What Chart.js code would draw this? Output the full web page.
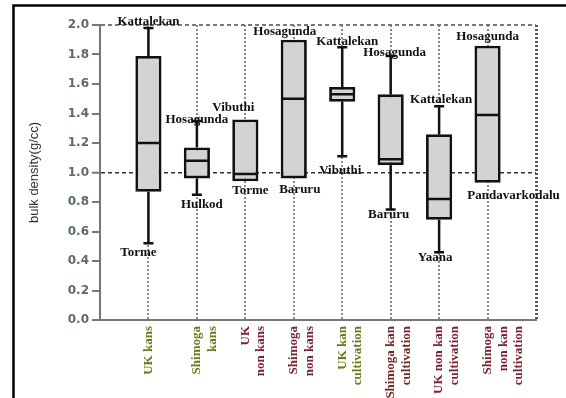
<!DOCTYPE html>
<html>
<head>
<meta charset="utf-8">
<script src="https://cdn.jsdelivr.net/npm/chart.js@4.4.0/dist/chart.umd.min.js"></script>
<style>
  html, body { margin: 0; padding: 0; background: #fff; }
  canvas { display: block; }
</style>
</head>
<body>
<canvas id="bulk_density_box" width="566" height="398"></canvas>
<script>
// categories on the x axis (multi-line, read bottom to top)
const categories = [
  ["UK kans"],
  ["Shimoga", "kans"],
  ["UK", "non kans"],
  ["Shimoga", "non kans"],
  ["UK kan", "cultivation"],
  ["Shimoga kan", "cultivation"],
  ["UK non kan", "cultivation"],
  ["Shimoga", "non kan", "cultivation"],
];
const categoryColors = ["#6b7a1c", "#6b7a1c", "#7a2433", "#7a2433", "#6b7a1c", "#6e2a2a", "#7a2433", "#7a2433"];

// box plot values, bulk density (g/cc)
const whiskerHigh = [1.98, 1.35, 1.36, 1.90, 1.85, 1.79, 1.45, 1.86];
const upperQuartile = [1.79, 1.17, 1.36, 1.90, 1.58, 1.53, 1.26, 1.86];
const median = [1.20, 1.08, 0.99, 1.50, 1.53, 1.09, 0.82, 1.39];
const lowerQuartile = [0.87, 0.96, 0.94, 0.96, 1.48, 1.05, 0.68, 0.93];
const whiskerLow = [0.52, 0.85, 0.94, 0.96, 1.11, 0.75, 0.46, 0.93];

// sites at the max / min of each group
const topSite = ["Kattalekan", "Hosagunda", "Vibuthi", "Hosagunda", "Kattalekan", "Hosagunda", "Kattalekan", "Hosagunda"];
const bottomSite = ["Torme", "Hulkod", "Torme", "Baruru", "Vibuthi", "Baruru", "Yaana", "Pandavarkodalu"];

const yTicks = [0, 2, 0.2];

// empty slot at each end so the groups sit on ticks 1..8
const labels = [""].concat(categories, [""]);
const boxes = [null].concat(
  lowerQuartile.map((q1, i) => [q1, upperQuartile[i]]),
  [null]
);

// small shifts for the site names so they don't sit on the lines
const topNudge = [[0, 0], [0, 5], [-12, -5], [-9, -2], [5, 1], [4, 3], [2, 0], [0, -3]];
const bottomNudge = [[-10, 0], [5, 1], [5, 0], [6, 2], [-2, 5], [-2, -4], [-4, -4], [26, 3]];

const boxExtras = {
  id: "boxExtras",
  afterDatasetsDraw(chart) {
    const ctx = chart.ctx;
    const xs = chart.scales.x;
    const ys = chart.scales.y;
    const meta = chart.getDatasetMeta(0);
    ctx.save();
    ctx.strokeStyle = "#111";
    ctx.lineWidth = 2.5;
    ctx.lineCap = "butt";
    for (let i = 0; i < categories.length; i++) {
      const cx = xs.getPixelForValue(i + 1);
      const half = meta.data[i + 1].width / 2;
      const yHi = ys.getPixelForValue(whiskerHigh[i]);
      const yQ3 = ys.getPixelForValue(upperQuartile[i]);
      const yMed = ys.getPixelForValue(median[i]);
      const yQ1 = ys.getPixelForValue(lowerQuartile[i]);
      const yLo = ys.getPixelForValue(whiskerLow[i]);

      ctx.beginPath();
      ctx.moveTo(cx - half + 1, yMed);
      ctx.lineTo(cx + half - 1, yMed);
      if (yQ3 - yHi > 2) {
        ctx.moveTo(cx, yQ3);
        ctx.lineTo(cx, yHi);
        ctx.moveTo(cx - 5, yHi);
        ctx.lineTo(cx + 5, yHi);
      }
      if (yLo - yQ1 > 2) {
        ctx.moveTo(cx, yQ1);
        ctx.lineTo(cx, yLo);
        ctx.moveTo(cx - 5, yLo);
        ctx.lineTo(cx + 5, yLo);
      }
      ctx.stroke();
    }

    ctx.fillStyle = "#111";
    ctx.font = "bold 13px 'Liberation Serif'";
    ctx.textAlign = "center";
    for (let i = 0; i < categories.length; i++) {
      const cx = xs.getPixelForValue(i + 1);
      ctx.textBaseline = "alphabetic";
      ctx.fillText(topSite[i], cx + topNudge[i][0], ys.getPixelForValue(whiskerHigh[i]) - 3 + topNudge[i][1]);
      ctx.textBaseline = "top";
      ctx.fillText(bottomSite[i], cx + bottomNudge[i][0], ys.getPixelForValue(whiskerLow[i]) + 3 + bottomNudge[i][1]);
    }
    ctx.restore();
  },
  afterDraw(chart) {
    // outer frame, left and top
    const ctx = chart.ctx;
    ctx.save();
    ctx.strokeStyle = "#000";
    ctx.lineWidth = 2.5;
    ctx.beginPath();
    ctx.moveTo(13.5, chart.height);
    ctx.lineTo(13.5, 5.5);
    ctx.lineTo(chart.width, 5.5);
    ctx.stroke();
    ctx.restore();
  },
};

new Chart(document.getElementById("bulk_density_box").getContext("2d"), {
  type: "bar",
  data: {
    labels: labels,
    datasets: [
      {
        data: boxes,
        backgroundColor: "#d3d3d3",
        borderColor: "#111",
        borderWidth: 2.8,
        borderSkipped: false,
        barPercentage: 0.54,
        categoryPercentage: 1,
      },
    ],
  },
  options: {
    responsive: false,
    animation: false,
    layout: { padding: { left: 14, top: 25, right: 30, bottom: 0 } },
    plugins: {
      legend: { display: false },
      tooltip: { enabled: false },
    },
    scales: {
      x: {
        type: "category",
        offset: false,
        afterFit(scale) {
          scale.height = 78;
        },
        grid: {
          offset: false,
          drawTicks: false,
          color: (c) => (c.index === 0 ? "rgba(0,0,0,0)" : c.index === labels.length - 1 ? "#555" : "#888"),
          lineWidth: (c) => (c.index === labels.length - 1 ? 3 : 2),
        },
        border: { color: "#777", width: 2, dash: [2, 2] },
        ticks: {
          autoSkip: false,
          minRotation: 90,
          maxRotation: 90,
          padding: 6,
          color: (c) => categoryColors[c.index - 1] || "#000",
          font: { family: "'Liberation Serif'", size: 13, weight: "bold", lineHeight: 1.2 },
        },
      },
      y: {
        min: yTicks[0],
        max: yTicks[1],
        afterFit(scale) {
          scale.width = 86;
        },
        grid: {
          color: (c) => {
            const v = c.tick ? c.tick.value : 0;
            if (Math.abs(v - 1) < 1e-6) return "#333";
            if (Math.abs(v - 2) < 1e-6) return "#777";
            return "rgba(0,0,0,0)";
          },
          lineWidth: (c) => (c.tick && Math.abs(c.tick.value - 1) < 1e-6 ? 1.5 : 2),
          tickColor: "#777",
          tickLength: 8,
          tickWidth: 2,
        },
        border: { color: "#777", width: 2, dash: [4, 3] },
        ticks: {
          stepSize: yTicks[2],
          padding: 3,
          color: "#5f6b6b",
          font: { family: "'DejaVu Sans'", size: 12, weight: "bold" },
          callback: (v) => v.toFixed(1),
        },
        title: {
          display: true,
          text: "bulk density(g/cc)",
          color: "#333",
          padding: { top: 13, bottom: 0 },
          font: { family: "'Liberation Sans'", size: 13, weight: "normal" },
        },
      },
    },
  },
  plugins: [boxExtras],
});
</script>
</body>
</html>
